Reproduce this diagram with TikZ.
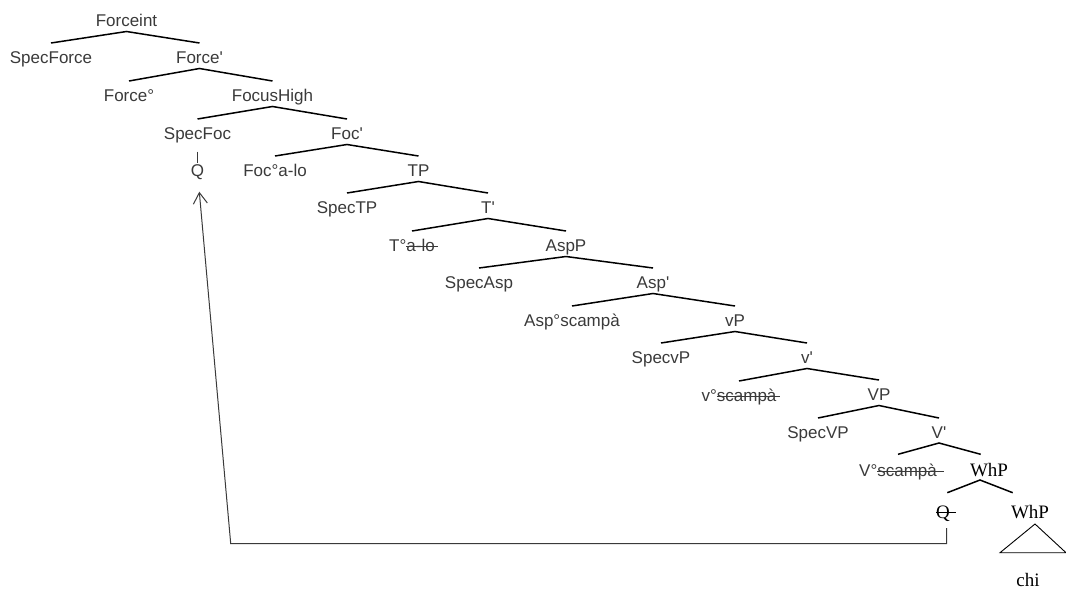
\documentclass[tikz,border=0pt]{standalone}
\usepackage{fontspec}
\setmainfont{Liberation Sans}
\newfontfamily\tms{Liberation Serif}
\usetikzlibrary{calc,arrows.meta}
% struck-through text: a rule drawn over the word, running a little past its end
\newcommand\strk[2][4pt]{\setbox0\hbox{#2}\rlap{\rule[0.26em]{\dimexpr\wd0+#1\relax}{0.9pt}}\box0}
\definecolor{ink}{HTML}{3A3A3A}
\tikzset{
  lbl/.style={inner sep=0pt, text height=12.2pt, text depth=0pt, text=ink,
              font=\fontsize{17}{20}\selectfont},
  slbl/.style={inner sep=0pt, text height=12.6pt, text depth=0pt, text=black,
              font=\tms\fontsize{19}{22}\selectfont},
  br/.style={line width=1.5pt, black},
  fine/.style={line width=0.9pt, ink},
  mv/.style={line width=1pt, ink},
}
% binary branching: parent, left daughter, right daughter
\newcommand\treebranch[3]{%
  \draw[br] ($(#2.center)+(0,-14)$) -- ($(#1.center)+(0,11.5)$) -- ($(#3.center)+(0,-14)$);}
\begin{document}
\begin{tikzpicture}[x=1pt,y=-1pt]
\useasboundingbox (0,0) rectangle (1066,590);
% labels
\node[lbl] (Forceint)  at (126.5,20) {Forceint};
\node[lbl] (SpecForce) at (51,57)    {SpecForce};
\node[lbl] (Forcep)    at (199.5,57) {Force\textquotesingle};
\node[lbl] (Forcedeg)  at (129,95)   {Force°};
\node[lbl] (FocusHigh) at (272.5,95) {FocusHigh};
\node[lbl] (SpecFoc)   at (197.5,133){SpecFoc};
\node[lbl] (Focp)      at (347,133)  {Foc\textquotesingle};
\node[lbl] (Qa)        at (197.5,170){Q};
\node[lbl] (FocHead)   at (275,170)  {Foc°a-lo};
\node[lbl] (TP)        at (418.5,170){TP};
\node[lbl] (SpecTP)    at (347,207)  {SpecTP};
\node[lbl] (Tp)        at (488,207)  {T\textquotesingle};
\node[lbl] (THead)     at (412,245)  {T°\strk[3pt]{a-lo}};
\node[lbl] (AspP)      at (566,245)  {AspP};
\node[lbl] (SpecAsp)   at (479,282)  {SpecAsp};
\node[lbl] (Aspp)      at (653,282)  {Asp\textquotesingle};
\node[lbl] (AspHead)   at (572,320)  {Asp°scampà};
\node[lbl] (vP)        at (735,320)  {vP};
\node[lbl] (SpecvP)    at (661,357)  {SpecvP};
\node[lbl] (vp)        at (807,357)  {v\textquotesingle};
\node[lbl] (vHead)     at (739,395)  {v°\strk[4pt]{scampà}};
\node[lbl] (VP)        at (879,394)  {VP};
\node[lbl] (SpecVP)    at (818,432)  {SpecVP};
\node[lbl] (Vp)        at (939,432)  {V\textquotesingle};
\node[lbl] (VHead)     at (898,470)  {V°\strk[7pt]{scampà}};
\node[slbl] (WhPa)     at (989,470)  {WhP};
\node[slbl] (Qb)       at (943,512)  {\strk[6pt]{Q}};
\node[slbl] (WhPb)     at (1030,512) {WhP};
\node[slbl] (chi)      at (1028,580.5) {chi};
% branches
\treebranch{Forceint}{SpecForce}{Forcep}
\treebranch{Forcep}{Forcedeg}{FocusHigh}
\treebranch{FocusHigh}{SpecFoc}{Focp}
\treebranch{Focp}{FocHead}{TP}
\treebranch{TP}{SpecTP}{Tp}
\treebranch{Tp}{THead}{AspP}
\treebranch{AspP}{SpecAsp}{Aspp}
\treebranch{Aspp}{AspHead}{vP}
\treebranch{vP}{SpecvP}{vp}
\treebranch{vp}{vHead}{VP}
\treebranch{VP}{SpecVP}{Vp}
\draw[br] ($(VHead.center)+(0,-15.7)$) -- ($(Vp.center)+(0,11)$) -- ($(WhPa.center)+(-8.3,-15.7)$);
\draw[br] ($(Qb.center)+(4.3,-19.3)$) -- ($(WhPa.center)+(-9,10)$) -- ($(WhPb.center)+(-17.3,-19.3)$);
% SpecFoc dominates Q
\draw[fine] ($(SpecFoc.center)+(0.2,18.7)$) -- ($(Qa.center)+(0.2,-6.7)$);
% WhP triangle over chi
\draw[line width=0.9pt, black] ($(WhPb.center)+(5,12)$) -- ($(WhPb.center)+(-30,40.7)$)
  -- ($(WhPb.center)+(36,40.7)$) -- cycle;
% movement of Q to SpecFoc
\coordinate (turn) at (230.7,543.5);
\draw[mv, -{Straight Barb[length=11pt,width=14pt,line width=1pt]}]
  ($(Qb.center)+(3.7,16)$) |- (turn) -- ($(Qa.center)+(1.8,21.7)$);
\end{tikzpicture}
\end{document}
